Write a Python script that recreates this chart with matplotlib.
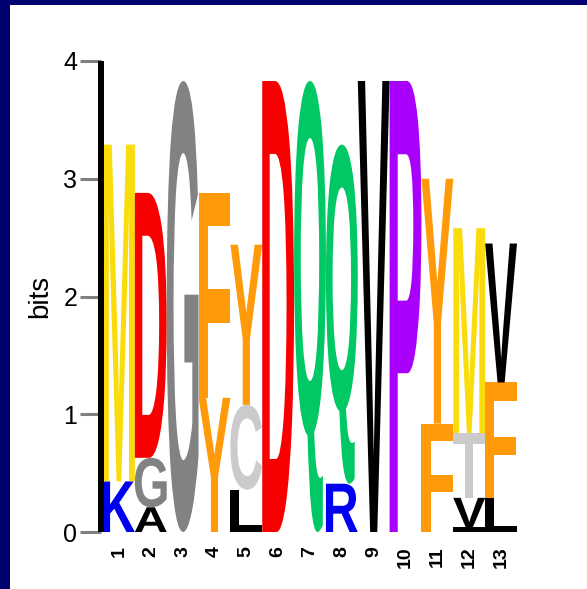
import matplotlib
matplotlib.use('Agg')
import matplotlib.pyplot as plt
from matplotlib.textpath import TextPath
from matplotlib.font_manager import FontProperties
from matplotlib.patches import PathPatch, Rectangle
from matplotlib.transforms import Affine2D

# ---------------- data ----------------
positions = list(range(1, 14))
tick_labels = [str(p) for p in positions]
y_ticks = [0, 1, 2, 3, 4]

# letters of each column, from bottom to top, with their heights (bits)
col_letters = [
    ['K', 'M'],
    ['A', 'G', 'D'],
    ['G'],
    ['Y', 'F'],
    ['L', 'C', 'Y'],
    ['D'],
    ['Q'],
    ['R', 'Q'],
    ['V'],
    ['P'],
    ['F', 'Y'],
    ['I', 'V', 'T', 'M'],
    ['L', 'F', 'V'],
]
col_heights = [
    [0.43, 2.86],
    [0.21, 0.42, 2.25],
    [3.83],
    [1.14, 1.74],
    [0.36, 0.72, 1.36],
    [3.83],
    [3.83],
    [0.41, 2.88],
    [3.83],
    [3.83],
    [0.92, 2.08],
    [0.04, 0.25, 0.55, 1.74],
    [0.29, 0.98, 1.18],
]

letter_colors = {
    'K': '#0000F0', 'R': '#0000F0',
    'A': '#000000', 'L': '#000000', 'V': '#000000', 'I': '#000000',
    'G': '#828282',
    'D': '#F80000',
    'F': '#FF9A0A', 'Y': '#FF9A0A',
    'C': '#CBCBCB', 'T': '#CBCBCB',
    'Q': '#00C864',
    'P': '#A800FA',
    'M': '#FADC0A',
}

# ---------------- figure ----------------
W, H = 587, 589
fig = plt.figure(figsize=(W / 100, H / 100), dpi=100)
fig.patch.set_facecolor('white')
navy = '#000070'
fig.add_artist(Rectangle((0, 0), 10 / W, 1, transform=fig.transFigure,
                         facecolor=navy, edgecolor='none'))
fig.add_artist(Rectangle((0, 1 - 5 / H), 1, 5 / H, transform=fig.transFigure,
                         facecolor=navy, edgecolor='none'))

ax = fig.add_axes([103 / W, 57 / H, 414 / W, 471 / H])
ax.set_xlim(0.5, 13.5)
ax.set_ylim(0, 4)

fp = FontProperties(family='Liberation Sans', weight='bold')
for pos, letters, heights in zip(positions, col_letters, col_heights):
    bottom = 0.0
    for L, h in zip(letters, heights):
        tp = TextPath((0, 0), L, size=1, prop=fp)
        bb = tp.get_extents()
        tr = (Affine2D().translate(-bb.x0, -bb.y0)
              .scale(1.0 / bb.width, h / bb.height)
              .translate(pos - 0.5, bottom))
        ax.add_patch(PathPatch(tr.transform_path(tp), facecolor=letter_colors[L],
                               edgecolor='none', lw=0, zorder=1))
        bottom += h

for s in ['top', 'right', 'bottom']:
    ax.spines[s].set_visible(False)
ax.spines['left'].set_linewidth(6 * 0.72)
ax.spines['left'].set_position(('outward', 2 * 0.72))
ax.spines['left'].set_capstyle('butt')
ax.spines['left'].set_zorder(3)

ax.set_yticks(y_ticks)
ax.set_yticklabels([str(v) for v in y_ticks], fontsize=18, family='Liberation Sans')
ax.tick_params(axis='y', length=15, width=2.2, color='#808080', pad=2)

ax.set_xticks(positions)
ax.set_xticklabels(tick_labels, rotation=90, fontsize=14, family='Liberation Sans',
                   fontweight='bold')
ax.tick_params(axis='x', length=0, pad=10)

fig.text(40 / W, 1 - 296 / H, 'bits', rotation=90, ha='center', va='center',
         fontsize=20, family='Liberation Sans')

fig.savefig('out.png', dpi=100, facecolor='white')
